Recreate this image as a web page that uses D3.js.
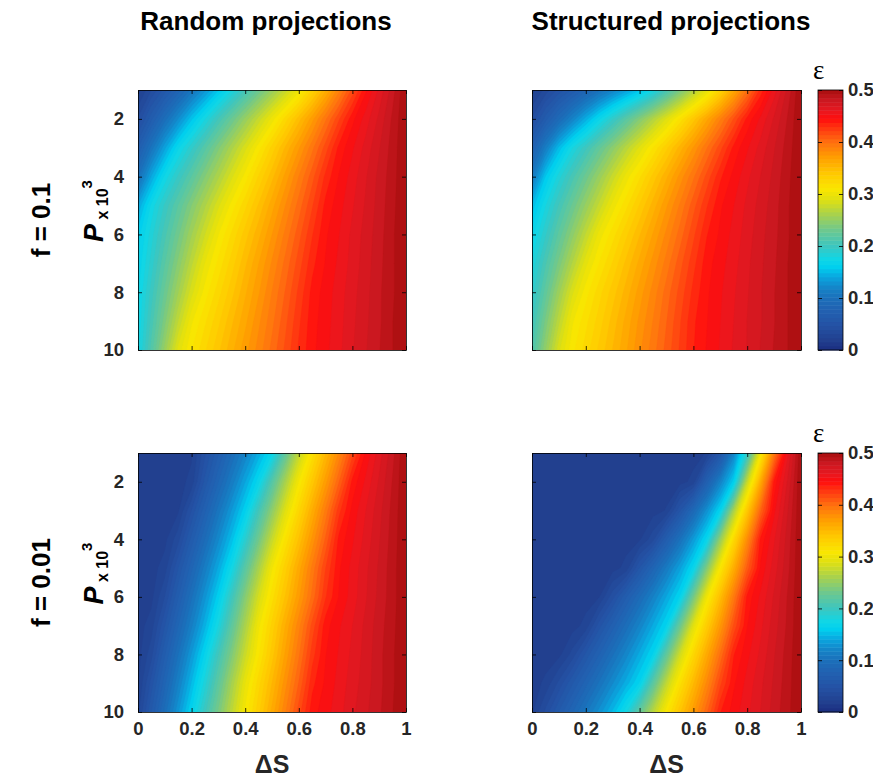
<!DOCTYPE html>
<html><head><meta charset="utf-8">
<script src="https://cdn.jsdelivr.net/npm/d3@7"></script>
<style>body{margin:0;background:#fff}svg{display:block}</style>
</head><body>
<svg id="chart" width="873" height="778"></svg>
<script>
// ---------- data ----------
const deltaS = [0,0.05,0.1,0.15,0.2,0.25,0.3,0.35,0.4,0.45,0.5,0.55,0.6,0.65,0.7,0.75,0.8,0.85,0.9,0.95,1];
const pValues = [1,2,3,4,5,6,7,8,9,10];
const xTicks = [0,0.2,0.4,0.6,0.8,1];
const yTicks = [2,4,6,8,10];
const cbTicks = [0,0.1,0.2,0.3,0.4,0.5];
const columnTitles = ["Random projections","Structured projections"];
const rowLabels = ["f = 0.1","f = 0.01"];

// epsilon, rows = P (x10^3) 1..10, columns = deltaS 0..1
const randomF01 = [
 [.020,.039,.058,.080,.105,.130,.155,.179,.204,.228,.252,.276,.300,.329,.358,.388,.417,.444,.463,.481,.500],
 [.040,.068,.097,.125,.154,.179,.204,.228,.252,.276,.300,.324,.348,.372,.397,.421,.443,.457,.471,.486,.500],
 [.070,.104,.138,.170,.193,.216,.240,.263,.286,.309,.331,.353,.374,.396,.418,.440,.452,.464,.476,.488,.500],
 [.100,.141,.174,.197,.219,.242,.264,.287,.308,.329,.349,.370,.391,.411,.432,.446,.457,.468,.479,.489,.500],
 [.140,.174,.197,.219,.242,.264,.287,.308,.326,.345,.364,.383,.402,.421,.440,.450,.460,.470,.480,.490,.500],
 [.160,.184,.208,.232,.257,.281,.304,.322,.340,.357,.375,.393,.411,.429,.444,.453,.463,.472,.481,.491,.500],
 [.165,.191,.218,.244,.271,.297,.315,.332,.350,.367,.384,.401,.418,.435,.446,.455,.464,.473,.482,.491,.500],
 [.170,.199,.228,.257,.286,.308,.325,.341,.358,.374,.391,.407,.424,.440,.449,.457,.466,.474,.483,.491,.500],
 [.172,.206,.239,.273,.303,.319,.334,.350,.365,.381,.396,.412,.428,.442,.450,.458,.467,.475,.483,.492,.500],
 [.175,.214,.253,.292,.312,.327,.342,.357,.372,.386,.401,.416,.431,.443,.451,.459,.468,.476,.484,.492,.500]
];
const structuredF01 = [
 [.020,.034,.049,.064,.082,.100,.118,.136,.154,.177,.206,.235,.265,.294,.328,.363,.398,.433,.457,.479,.500],
 [.040,.066,.092,.118,.144,.170,.194,.218,.242,.266,.290,.315,.340,.365,.390,.415,.440,.455,.470,.485,.500],
 [.075,.113,.150,.179,.201,.224,.246,.269,.291,.313,.334,.355,.376,.398,.419,.440,.452,.464,.476,.488,.500],
 [.110,.156,.184,.207,.230,.253,.277,.300,.319,.339,.358,.378,.397,.417,.436,.448,.459,.469,.479,.490,.500],
 [.150,.179,.204,.228,.252,.276,.300,.318,.337,.355,.374,.392,.411,.429,.444,.453,.463,.472,.481,.491,.500],
 [.168,.194,.221,.247,.274,.300,.317,.334,.351,.368,.385,.402,.420,.437,.447,.456,.465,.474,.482,.491,.500],
 [.180,.209,.237,.266,.294,.313,.329,.346,.362,.378,.394,.411,.427,.442,.450,.458,.467,.475,.483,.492,.500],
 [.190,.222,.255,.287,.309,.325,.340,.355,.371,.386,.402,.417,.432,.444,.452,.460,.468,.476,.484,.492,.500],
 [.200,.236,.271,.303,.318,.332,.347,.362,.377,.391,.406,.421,.436,.445,.453,.461,.469,.476,.484,.492,.500],
 [.210,.249,.287,.310,.324,.338,.352,.366,.381,.395,.409,.423,.437,.446,.454,.462,.469,.477,.485,.492,.500]
];
const randomF001 = [
 [.020,.020,.020,.020,.022,.045,.069,.094,.118,.143,.170,.222,.273,.316,.351,.385,.419,.447,.465,.482,.500],
 [.020,.020,.020,.020,.026,.057,.085,.112,.140,.169,.215,.261,.305,.339,.372,.406,.440,.455,.470,.485,.500],
 [.020,.020,.020,.022,.047,.076,.105,.133,.162,.204,.247,.290,.326,.360,.393,.427,.448,.461,.474,.487,.500],
 [.020,.020,.021,.036,.065,.094,.123,.152,.189,.232,.276,.314,.345,.377,.408,.440,.452,.464,.476,.488,.500],
 [.020,.020,.027,.054,.083,.113,.142,.175,.218,.261,.303,.333,.363,.393,.422,.444,.456,.467,.478,.489,.500],
 [.020,.021,.039,.069,.100,.130,.161,.201,.243,.284,.317,.345,.373,.401,.429,.446,.457,.468,.479,.489,.500],
 [.020,.027,.054,.085,.115,.146,.180,.221,.262,.302,.331,.360,.388,.417,.442,.452,.461,.471,.481,.490,.500],
 [.020,.036,.069,.101,.133,.166,.203,.240,.278,.311,.340,.369,.397,.426,.445,.454,.463,.472,.482,.491,.500],
 [.022,.050,.083,.116,.149,.184,.221,.259,.296,.325,.352,.380,.407,.435,.447,.456,.465,.473,.482,.491,.500],
 [.028,.062,.097,.131,.165,.201,.236,.272,.306,.334,.362,.390,.418,.442,.450,.458,.467,.475,.483,.492,.500]
];
const structuredF001 = [
 [.020,.020,.020,.020,.020,.020,.020,.020,.020,.020,.020,.020,.020,.024,.055,.118,.194,.304,.393,.459,.500],
 [.020,.020,.020,.020,.020,.020,.020,.020,.020,.020,.020,.020,.026,.074,.118,.161,.276,.362,.440,.470,.500],
 [.020,.020,.020,.020,.020,.020,.020,.020,.020,.020,.024,.053,.090,.128,.165,.261,.339,.405,.451,.476,.500],
 [.020,.020,.020,.020,.020,.020,.020,.020,.022,.036,.069,.101,.134,.168,.251,.323,.382,.440,.460,.480,.500],
 [.020,.020,.020,.020,.020,.020,.020,.026,.055,.083,.111,.138,.168,.241,.310,.360,.410,.447,.465,.482,.500],
 [.020,.020,.020,.020,.020,.023,.044,.069,.093,.117,.141,.165,.234,.302,.348,.394,.440,.455,.470,.485,.500],
 [.020,.020,.020,.020,.026,.051,.074,.097,.119,.142,.165,.228,.291,.335,.375,.416,.445,.459,.473,.486,.500],
 [.020,.020,.021,.034,.056,.078,.100,.121,.143,.165,.223,.281,.325,.363,.400,.437,.451,.463,.476,.488,.500],
 [.020,.025,.041,.061,.082,.103,.124,.144,.165,.219,.273,.317,.351,.385,.420,.444,.456,.467,.478,.489,.500],
 [.022,.041,.063,.085,.107,.128,.150,.178,.223,.269,.310,.342,.373,.405,.437,.449,.459,.469,.480,.490,.500]
];

// ---------- colour map (quantised, 64 levels over [0, 0.5]) ----------
const cmapStops = [0,0.02,0.05,0.08,0.10,0.12,0.14,0.16,0.175,0.20,0.23,0.26,0.29,0.31,0.34,0.37,0.40,0.43,0.445,0.46,0.48,0.50];
const cmapColors = ["#1a2d80","#22408f","#2453a6","#2163b2","#1b6fba","#1584c8","#0aa4de","#00cfee","#10d6e6","#3cc6c0","#6cc890","#a6d150","#e0e010","#fae600","#ffc800","#ffa000","#ff7010","#ff3010","#ff0d0d","#e81820","#cc1820","#a80e0e"];
const nLevels = 64, eMax = 0.5;
const cmap = d3.scaleLinear().domain(cmapStops).range(cmapColors).clamp(true);
const thresholds = d3.range(nLevels).map(k => k * eMax / nLevels);
const levelColor = k => cmap((k + 0.5) * eMax / nLevels);

// ---------- layout ----------
const colX = [[138, 406], [532, 801]];
const rowY = [[90, 350], [453, 712]];
const titleX = [266, 671];
const cbX = [818, 843];
const FONT = "'Liberation Sans', Arial, Helvetica, sans-serif";
const TICKCOL = "#262626";
const TICKSIZE = "18.5px";

const svg = d3.select("#chart");
const defs = svg.append("defs");

const panels = [
  {data: randomF01, col: 0, row: 0},
  {data: structuredF01, col: 1, row: 0},
  {data: randomF001, col: 0, row: 1},
  {data: structuredF001, col: 1, row: 1}
];

panels.forEach((p, idx) => {
  const x = d3.scaleLinear().domain([0, 1]).range(colX[p.col]);
  const y = d3.scaleLinear().domain([1, 10]).range(rowY[p.row]);
  const nx = deltaS.length, ny = pValues.length;
  const dsStep = deltaS[1] - deltaS[0], pStep = pValues[1] - pValues[0];
  const proj = d3.geoTransform({
    point(gx, gy) {
      this.stream.point(x(deltaS[0] + (gx - 0.5) * dsStep), y(pValues[0] + (gy - 0.5) * pStep));
    }
  });
  const path = d3.geoPath(proj);
  const contours = d3.contours().size([nx, ny]).thresholds(thresholds)(p.data.flat());

  defs.append("clipPath").attr("id", "clip" + idx)
    .append("rect").attr("x", x(0)).attr("y", y(1))
    .attr("width", x(1) - x(0)).attr("height", y(10) - y(1));

  const g = svg.append("g");
  g.append("g").attr("clip-path", `url(#clip${idx})`)
    .selectAll("path").data(contours).join("path")
    .attr("d", path)
    .attr("fill", (d, i) => levelColor(i))
    .attr("stroke", (d, i) => levelColor(i))
    .attr("stroke-width", 0.3);

  // axes (MATLAB style box, inward ticks)
  const bottom = d3.axisBottom(x).tickValues(xTicks).tickSizeInner(-4).tickSizeOuter(0).tickPadding(10)
    .tickFormat(p.row === 1 ? (d => String(d)) : () => "");
  const top = d3.axisTop(x).tickValues(xTicks).tickSizeInner(-4).tickSizeOuter(0).tickFormat(() => "");
  const left = d3.axisLeft(y).tickValues(yTicks).tickSizeInner(-4).tickSizeOuter(0).tickPadding(14)
    .tickFormat(p.col === 0 ? (d => String(d)) : () => "");
  const right = d3.axisRight(y).tickValues(yTicks).tickSizeInner(-4).tickSizeOuter(0).tickFormat(() => "");

  const axes = [
    [bottom, `translate(0,${y(10)})`],
    [top, `translate(0,${y(1)})`],
    [left, `translate(${x(0)},0)`],
    [right, `translate(${x(1)},0)`]
  ];
  axes.forEach(([ax, tr]) => {
    const ag = g.append("g").attr("transform", tr).call(ax);
    ag.select(".domain").attr("stroke", "#000").attr("stroke-width", 0.8);
    ag.selectAll(".tick line").attr("stroke", "#000").attr("stroke-width", 0.8);
    ag.selectAll(".tick text").attr("fill", TICKCOL)
      .style("font-family", FONT).style("font-size", TICKSIZE).style("font-weight", "bold");
  });

  // x label
  if (p.row === 1) {
    g.append("text").attr("x", (x(0) + x(1)) / 2).attr("y", 773)
      .attr("text-anchor", "middle").attr("fill", TICKCOL)
      .style("font-family", FONT).style("font-size", "25px").style("font-weight", "bold")
      .text("\u0394S");
  }
  // y label + row label
  if (p.col === 0) {
    const cy = (y(1) + y(10)) / 2;
    const yl = g.append("text").attr("transform", `translate(103,${cy - 9}) rotate(-90)`)
      .attr("text-anchor", "middle").attr("fill", "#000")
      .style("font-family", FONT).style("font-weight", "bold");
    yl.append("tspan").text("P").style("font-style", "italic").style("font-size", "27px");
    yl.append("tspan").text(" x 10").attr("dy", 5).style("font-size", "16px");
    yl.append("tspan").text("3").attr("dy", -16).style("font-size", "15px");

    g.append("text").attr("transform", `translate(50,${cy}) rotate(-90)`)
      .attr("text-anchor", "middle").attr("fill", "#000")
      .style("font-family", FONT).style("font-size", "26px").style("font-weight", "bold")
      .text(rowLabels[p.row]);
  }
  // column title
  if (p.row === 0) {
    g.append("text").attr("x", titleX[p.col]).attr("y", 30)
      .attr("text-anchor", "middle").attr("fill", "#000")
      .style("font-family", FONT).style("font-size", "26px").style("font-weight", "bold")
      .text(columnTitles[p.col]);
  }
  // colour bar
  if (p.col === 1) {
    const cy = d3.scaleLinear().domain([0, eMax]).range([rowY[p.row][1], rowY[p.row][0]]);
    const cb = svg.append("g");
    cb.selectAll("rect").data(d3.range(nLevels)).join("rect")
      .attr("x", cbX[0]).attr("width", cbX[1] - cbX[0])
      .attr("y", k => cy((k + 1) * eMax / nLevels))
      .attr("height", k => cy(k * eMax / nLevels) - cy((k + 1) * eMax / nLevels) + 0.5)
      .attr("fill", k => levelColor(k));
    cb.append("rect").attr("x", cbX[0]).attr("y", cy(eMax))
      .attr("width", cbX[1] - cbX[0]).attr("height", cy(0) - cy(eMax))
      .attr("fill", "none").attr("stroke", "#000").attr("stroke-width", 0.8);
    const cbAxis = d3.axisRight(cy).tickValues(cbTicks).tickSizeInner(-4).tickSizeOuter(0).tickPadding(5)
      .tickFormat(d => String(d));
    const ca = cb.append("g").attr("transform", `translate(${cbX[1]},0)`).call(cbAxis);
    ca.select(".domain").remove();
    ca.selectAll(".tick line").attr("stroke", "#000").attr("stroke-width", 0.8);
    ca.selectAll(".tick text").attr("fill", TICKCOL)
      .style("font-family", FONT).style("font-size", TICKSIZE).style("font-weight", "bold");
    const cl = d3.axisLeft(cy).tickValues(cbTicks).tickSizeInner(-4).tickSizeOuter(0).tickFormat(() => "");
    const cla = cb.append("g").attr("transform", `translate(${cbX[0]},0)`).call(cl);
    cla.select(".domain").remove();
    cla.selectAll(".tick line").attr("stroke", "#000").attr("stroke-width", 0.8);
    cb.append("text").attr("x", 813).attr("y", rowY[p.row][0] - 11)
      .attr("fill", "#000")
      .style("font-family", "'Liberation Serif', 'DejaVu Serif', serif").style("font-size", "27px")
      .text("\u03B5");
  }
});
</script>
</body></html>
